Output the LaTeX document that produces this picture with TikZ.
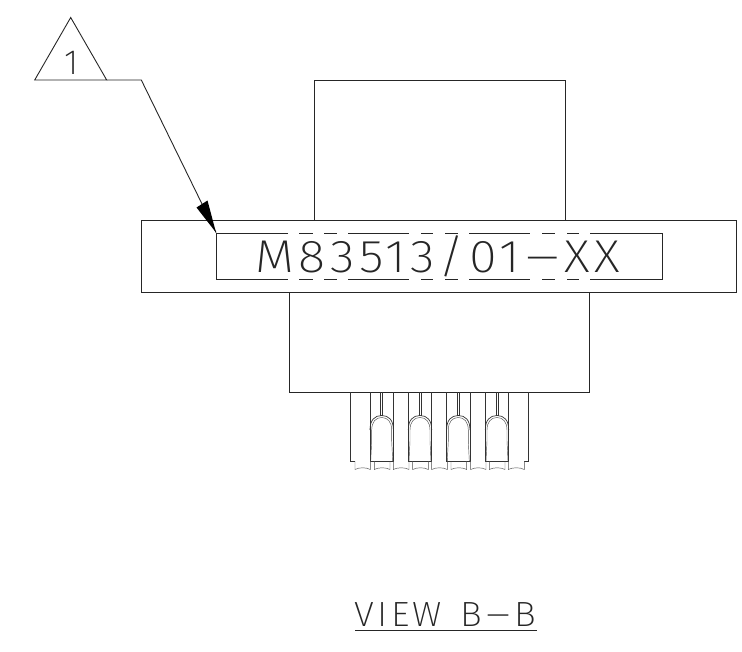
\documentclass[tikz,border=0pt]{standalone}
\usepackage{fontspec}
\usepackage{graphicx}
\setmainfont{Liberation Sans}
\newfontfamily\cadfont[LetterSpace=9]{Fira Sans ExtraLight}
\newcommand{\longdash}{\scalebox{2.2}[1]{-}}
\tikzset{
  part/.style={draw=black!85,line width=0.9pt},
  pinline/.style={draw=black!80,line width=0.7pt},
  fine/.style={draw=black!70,line width=0.45pt},
  cad/.style={inner sep=0pt,anchor=base west,text=black!85},
  tiphead/.style={fill=black,draw=none},
}
\newcommand{\pin}[1]{%
  \draw[pinline] (#1-11.7,392.3) -- (#1-11.7,461) -- (#1+11.7,461) -- (#1+11.7,392.3);
  \draw[pinline] (#1-1,392.3) -- (#1-1,415.5) (#1+1,392.3) -- (#1+1,415.5);
  \draw[pinline] (#1-11.7,430) .. controls (#1-11.7,420) and (#1-7,415.5) .. (#1,415.5) .. controls (#1+7,415.5) and (#1+11.7,420) .. (#1+11.7,430);
  \draw[fine] (#1-11,461) -- (#1-10,441) -- (#1-10,430) .. controls (#1-10,422) and (#1-6,417.5) .. (#1,417.5) .. controls (#1+6,417.5) and (#1+10,422) .. (#1+10,430) -- (#1+10,441) -- (#1+11,461);
}
\newcommand{\scallop}[2]{%
  \draw[fine] (#1,461) -- (#1,469.5) .. controls (#1+4,467.2) and (#2-4,467.2) .. (#2,469.5) -- (#2,461);
}
\begin{document}
\begin{tikzpicture}[x=1pt,y=-1pt]
\useasboundingbox (0,0) rectangle (742,651);
% bodies
\draw[part] (314,220.7) -- (314,80) -- (565,80) -- (565,220.7);
\draw[part] (289.5,292.3) -- (289.5,392.3) -- (589.5,392.3) -- (589.5,292.3);
\draw[part] (141.7,220.7) rectangle (736.7,292.3);
% inner label frame
\draw[part] (288,233.3) -- (216.5,233.3) -- (216.5,279.3) -- (288,279.3);
\draw[part] (590,233.3) -- (662.3,233.3) -- (662.3,279.3) -- (590,279.3);
\foreach \a/\b in {299/313,324/337,348/409,421/433,445/458,469/530,542/555,567/579}{
  \draw[part] (\a,233.3) -- (\b,233.3);
  \draw[part] (\a,279.3) -- (\b,279.3);
}
% pins
\draw[pinline] (350.3,392.3) -- (350.3,461) -- (355,461);
\draw[pinline] (528.3,392.3) -- (528.3,461) -- (524.3,461);
\foreach \c in {381.7,420,458.3,497}{\pin{\c}}
\foreach \a/\b in {355/370.3,374.3/390,393.3/409,412.7/428.3,431.7/447.3,451/466.7,470.7/486,489.3/505,508.3/524.3}{\scallop{\a}{\b}}
% leader
\coordinate (triL) at (34.7,80);
\coordinate (triT) at (70.7,17.5);
\coordinate (triR) at (106.7,80);
\coordinate (knee) at (141.3,80);
\coordinate (tip) at (216,232.5);
\draw[part] (triL) -- (triT) -- (triR) -- cycle;
\draw[part] (triR) -- (knee) -- (tip);
\fill[tiphead] (tip) -- (196.5,207.5) -- (207.5,200.5) -- cycle;
% texts
\node[cad,font=\cadfont\fontsize{46}{46}\selectfont] (lbl) at (255,272.5) {\scalebox{1.1}[1]{M83513/01\longdash XX}};
\node[cad,font=\cadfont\fontsize{35}{35}\selectfont] (num) at (64.5,74) {1};
\node[cad,font=\cadfont\fontsize{35}{35}\selectfont] (view) at (354.5,626) {\scalebox{1.04}[1]{VIEW\hspace{18pt}B\longdash B}};
\coordinate (ulA) at (355,630.7);
\coordinate (ulB) at (536.7,630.7);
\draw[part] (ulA) -- (ulB);
\end{tikzpicture}
\end{document}
